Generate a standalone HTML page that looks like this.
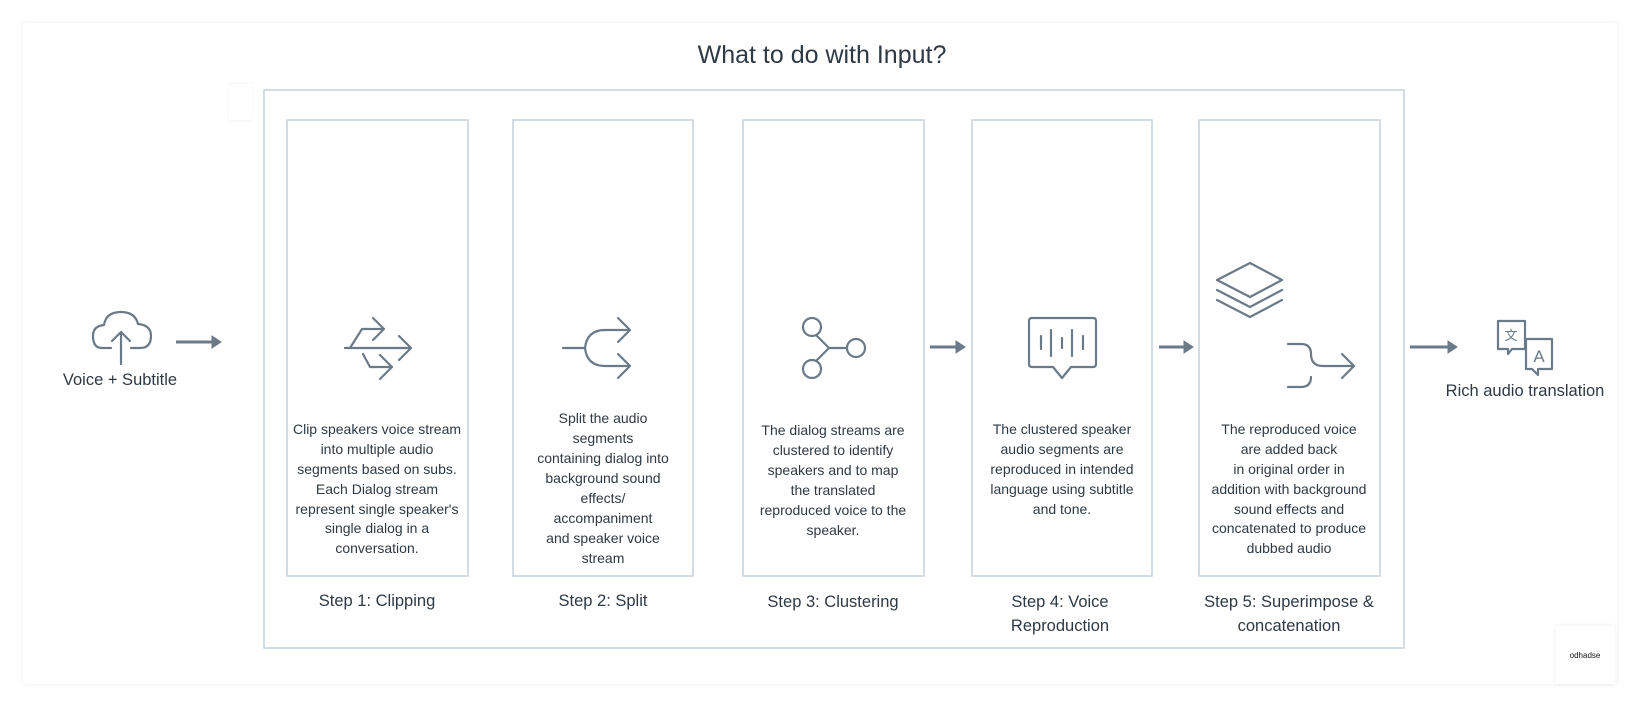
<!DOCTYPE html>
<html><head><meta charset="utf-8"><style>
html,body{margin:0;padding:0;background:#fff;}
svg{display:block}
text{font-family:"Liberation Sans Narrow","Liberation Sans",sans-serif;fill:#2d3a45}
.b{font-size:14px}
.s{font-size:16.5px}
</style></head><body>
<svg width="1644" height="708" viewBox="0 0 1644 708" xmlns="http://www.w3.org/2000/svg">
<defs><filter id="sh" x="-5%" y="-5%" width="110%" height="110%"><feDropShadow dx="0" dy="0" stdDeviation="3" flood-color="#000" flood-opacity="0.06"/></filter></defs>
<rect x="23" y="23" width="1594" height="661" fill="#fff" filter="url(#sh)"/>
<text x="822" y="63" text-anchor="middle" style="font-size:25px">What to do with Input?</text>
<rect x="229" y="84" width="23" height="36" fill="#fff" filter="url(#sh)"/>
<rect x="264" y="90" width="1140" height="558" fill="none" stroke="#c5d0da" stroke-width="1.5"/>
<g fill="none" stroke="#c5d0da" stroke-width="1.5">
<rect x="287" y="120" width="181" height="456"/>
<rect x="513" y="120" width="180" height="456"/>
<rect x="743" y="120" width="181" height="456"/>
<rect x="972" y="120" width="180" height="456"/>
<rect x="1199" y="120" width="181" height="456"/>
</g>
<g fill="none" stroke="#6b7a89" stroke-width="2.2" stroke-linecap="round" stroke-linejoin="round">
<!-- icon1 -->
<path d="M345 348 H411 M399 336 L411 348 L399 360"/>
<path d="M350 348 L362 329 H384 M373 318 L384 329 L373 340"/>
<path d="M363 354 L370 367 H392 M380 355 L392 367 L380 379"/>
<!-- icon2 -->
<path d="M563 348 H585 Q587 330 605 330 H630 M618 318 L630 330 L618 342"/>
<path d="M585 348 Q587 366 605 366 H630 M618 354 L630 366 L618 378"/>
<!-- icon3 -->
<circle cx="812" cy="327" r="9"/><circle cx="856" cy="348" r="9"/><circle cx="812" cy="369" r="9"/>
<path d="M816 335 L829 348 H847 M829 348 L816 361"/>
<!-- icon4 -->
<path d="M1032 318 H1093 Q1096 318 1096 321 V364 Q1096 367 1093 367 H1071 L1062 378 L1053 367 H1032 Q1029 367 1029 364 V321 Q1029 318 1032 318 Z"/>
<path d="M1041 336 V349 M1051 330 V356 M1062 338 V348 M1072 330 V356 M1083 336 V349"/>
<!-- icon5 -->
<path d="M1250 263 L1282 280 L1250 297 L1217 280 Z"/>
<path d="M1217 290 L1250 307 L1282 290"/>
<path d="M1217 300 L1250 317 L1282 300"/>
<path d="M1288 344 H1301 Q1311 344 1311 354 Q1311 366 1323 366 H1354 M1342 354 L1354 366 L1342 378"/>
<path d="M1288 387 H1301 Q1311 387 1311 377"/>
<!-- cloud -->
<path d="M111 348 H102 Q93 348 93 336 Q93 326 104 325 Q106 312 121 312 Q135 312 138 324 Q151 325 151 336 Q151 348 140 348 H131"/>
<path d="M121 364 V332 M112 341 L121 332 L130 341"/>
<!-- translate -->
<path d="M1498 321 H1525 V349 H1512 L1508 354 V349 H1498 Z"/>
<path d="M1526 339 H1552 V369 H1538 V375 L1532 369 H1526 Z" fill="#fff"/>
</g>
<text x="1511" y="340" text-anchor="middle" style="font-size:13px;fill:#6b7a89">文</text>
<text x="1539" y="362" text-anchor="middle" style="font-size:17px;fill:#6b7a89">A</text>
<g fill="#6b7a89" stroke="#6b7a89" stroke-width="3">
<path d="M176 342 H214" fill="none"/><path d="M212 336 L221 342 L212 348 Z" stroke-width="1"/>
<path d="M930 347 H958" fill="none"/><path d="M956 341 L965 347 L956 353 Z" stroke-width="1"/>
<path d="M1159 347 H1186" fill="none"/><path d="M1184 341 L1193 347 L1184 353 Z" stroke-width="1"/>
<path d="M1410 347 H1450" fill="none"/><path d="M1448 341 L1457 347 L1448 353 Z" stroke-width="1"/>
</g>
<text x="120" y="385" text-anchor="middle" class="s">Voice + Subtitle</text>
<text x="1525" y="396" text-anchor="middle" class="s">Rich audio translation</text>
<g class="b" text-anchor="middle">
<text x="377" y="434" class="b">Clip speakers voice stream</text>
<text x="377" y="454" class="b">into multiple audio</text>
<text x="377" y="474" class="b">segments based on subs.</text>
<text x="377" y="494" class="b">Each Dialog stream</text>
<text x="377" y="514" class="b">represent single speaker's</text>
<text x="377" y="533" class="b">single dialog in a</text>
<text x="377" y="553" class="b">conversation.</text>

<text x="603" y="423" class="b">Split the audio</text>
<text x="603" y="443" class="b">segments</text>
<text x="603" y="463" class="b">containing dialog into</text>
<text x="603" y="483" class="b">background sound</text>
<text x="603" y="503" class="b">effects/</text>
<text x="603" y="523" class="b">accompaniment</text>
<text x="603" y="543" class="b">and speaker voice</text>
<text x="603" y="563" class="b">stream</text>

<text x="833" y="435" class="b">The dialog streams are</text>
<text x="833" y="455" class="b">clustered to identify</text>
<text x="833" y="475" class="b">speakers and to map</text>
<text x="833" y="495" class="b">the translated</text>
<text x="833" y="515" class="b">reproduced voice to the</text>
<text x="833" y="535" class="b">speaker.</text>

<text x="1062" y="434" class="b">The clustered speaker</text>
<text x="1062" y="454" class="b">audio segments are</text>
<text x="1062" y="474" class="b">reproduced in intended</text>
<text x="1062" y="494" class="b">language using subtitle</text>
<text x="1062" y="514" class="b">and tone.</text>

<text x="1289" y="434" class="b">The reproduced voice</text>
<text x="1289" y="454" class="b">are added back</text>
<text x="1289" y="474" class="b">in original order in</text>
<text x="1289" y="494" class="b">addition with background</text>
<text x="1289" y="514" class="b">sound effects and</text>
<text x="1289" y="533" class="b">concatenated to produce</text>
<text x="1289" y="553" class="b">dubbed audio</text>
</g>
<g text-anchor="middle">
<text x="377" y="606" class="s">Step 1: Clipping</text>
<text x="603" y="606" class="s">Step 2: Split</text>
<text x="833" y="607" class="s">Step 3: Clustering</text>
<text x="1060" y="607" class="s">Step 4: Voice</text>
<text x="1060" y="631" class="s">Reproduction</text>
<text x="1289" y="607" class="s">Step 5: Superimpose &amp;</text>
<text x="1289" y="631" class="s">concatenation</text>
</g>
<rect x="1556" y="626" width="59" height="58" fill="#fff" filter="url(#sh)"/>
<text x="1585" y="658" text-anchor="middle" style="font-size:8px;fill:#111">odhadse</text>
</svg>
</body></html>
